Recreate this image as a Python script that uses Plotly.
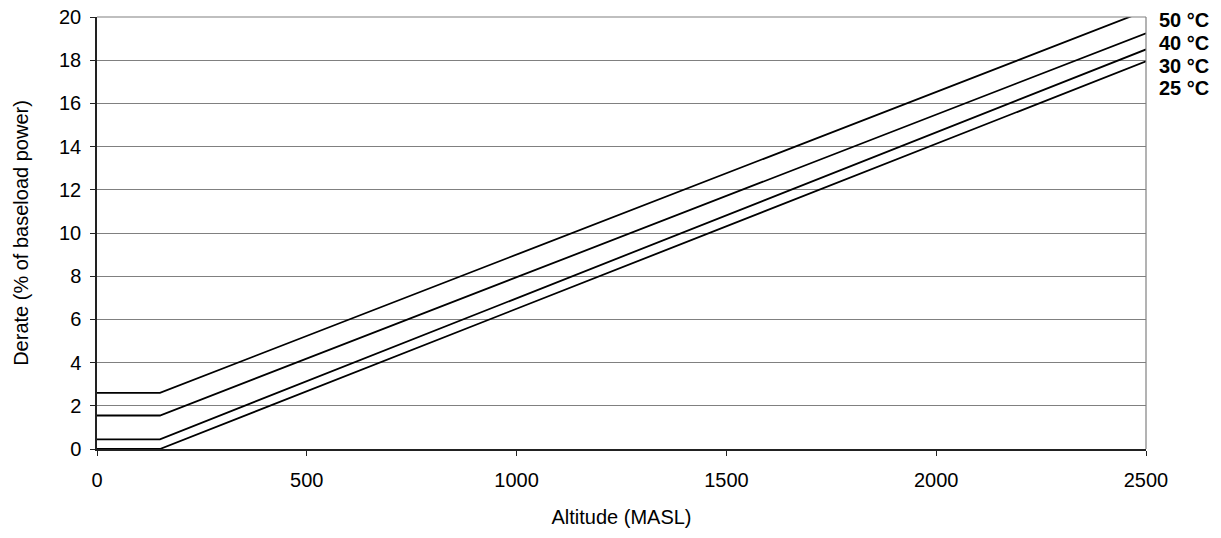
import plotly.graph_objects as go

altitude = [0, 150, 2500]
derate_25 = [0.0, 0.0, 17.95]
derate_30 = [0.45, 0.45, 18.5]
derate_40 = [1.55, 1.55, 19.25]
derate_50 = [2.6, 2.6, 20.3]

series_names = ["25 °C", "30 °C", "40 °C", "50 °C"]
series_values = [derate_25, derate_30, derate_40, derate_50]
label_y = [16.72, 17.74, 18.81, 19.84]

x_ticks = [0, 500, 1000, 1500, 2000, 2500]
y_ticks = list(range(0, 21, 2))

FONT = "Liberation Sans, Arial, sans-serif"

fig = go.Figure()
for name, vals in zip(series_names, series_values):
    fig.add_trace(go.Scatter(x=altitude, y=vals, mode="lines", name=name,
                             line=dict(color="black", width=1.8),
                             showlegend=False, cliponaxis=True))

for name, ly in zip(series_names, label_y):
    fig.add_annotation(x=1, xref="paper", y=ly, yref="y", text="<b>%s</b>" % name,
                       showarrow=False, xanchor="left", yanchor="middle", xshift=11,
                       font=dict(family=FONT, size=20, color="black"))

# plot frame: grey top and right borders
fig.add_shape(type="line", xref="paper", yref="paper", x0=1, x1=1, y0=0, y1=1,
              line=dict(color="#808080", width=1.2))
fig.add_shape(type="line", xref="paper", yref="paper", x0=0, x1=1, y0=1, y1=1,
              line=dict(color="#808080", width=1.2))

fig.update_layout(
    width=1221, height=538,
    margin=dict(l=89, r=83, t=9, b=97),
    paper_bgcolor="white", plot_bgcolor="white",
    font=dict(family=FONT, size=20, color="black"),
    xaxis=dict(range=[0, 2500], tickvals=x_ticks, showgrid=False,
               showline=True, linecolor="#222222", linewidth=1.5,
               ticks="outside", ticklen=5, tickcolor="#222222",
               tickfont=dict(size=20), zeroline=False, automargin=False,
               ticklabelstandoff=7, ticklabeloverflow="allow",
               title=dict(text="Altitude (MASL)", font=dict(size=20), standoff=20)),
    yaxis=dict(range=[0, 20.001], tickvals=y_ticks, showgrid=True,
               gridcolor="#808080", gridwidth=1,
               showline=True, linecolor="#222222", linewidth=1.5,
               ticks="outside", ticklen=5, tickcolor="#222222",
               tickfont=dict(size=20), zeroline=False, automargin=False,
               ticklabelstandoff=5, ticklabeloverflow="allow",
               title=dict(text="Derate (% of baseload power)", font=dict(size=20), standoff=25)),
)

fig.write_html("out.html")
